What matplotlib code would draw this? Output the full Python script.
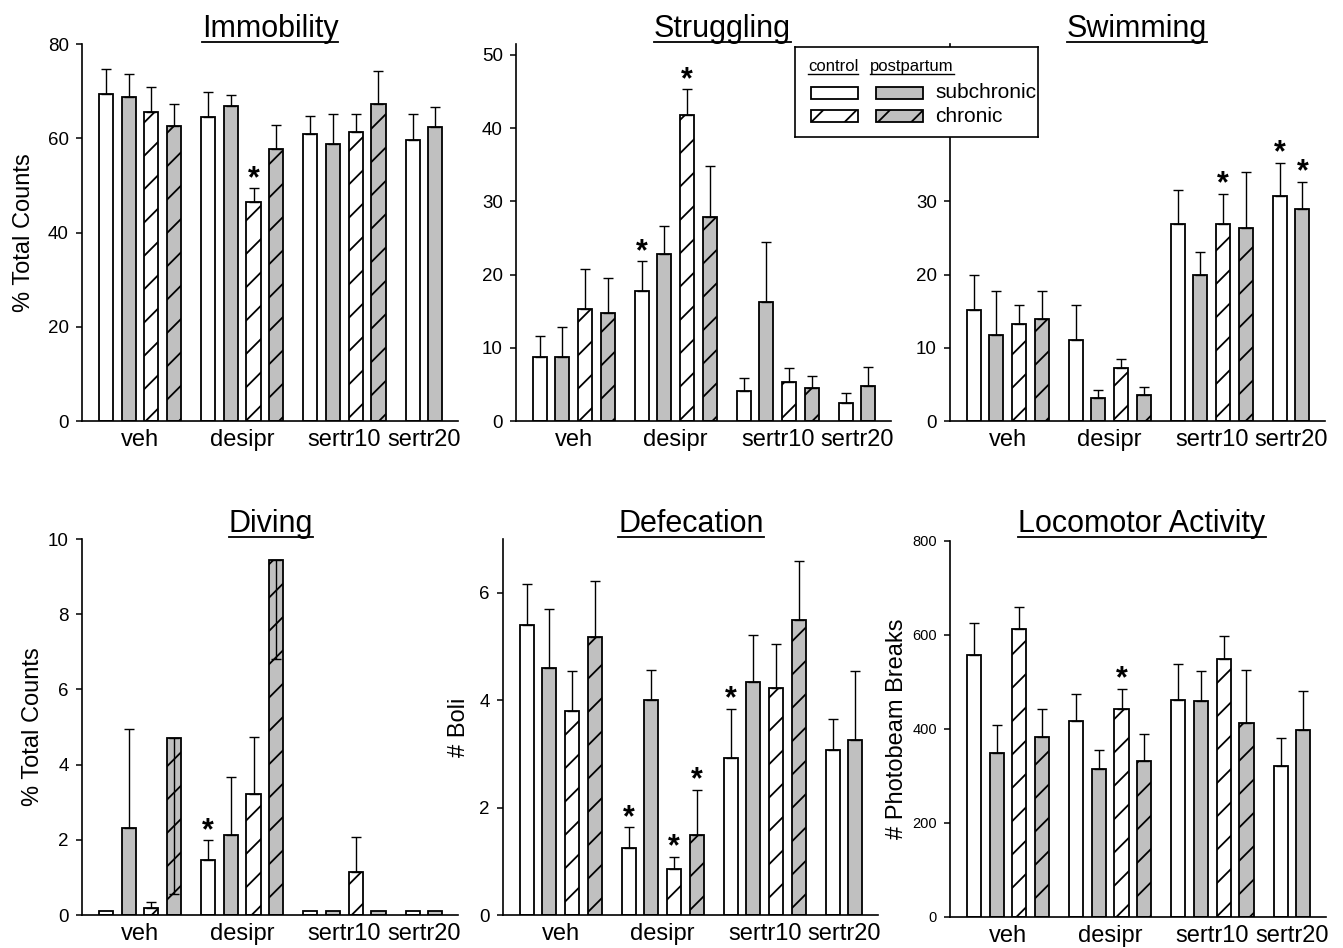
import numpy as np
import matplotlib
matplotlib.use('Agg')
import matplotlib.pyplot as plt
from matplotlib.patches import Rectangle
from matplotlib.lines import Line2D

plt.rcParams['font.family'] = ['Liberation Sans', 'DejaVu Sans']
plt.rcParams['hatch.linewidth'] = 1.3

nan = np.nan

# treatment groups on the x axis, four bars per group
groups = ['veh', 'desipr', 'sertr10', 'sertr20']
conditions = ['control subchronic', 'postpartum subchronic',
              'control chronic', 'postpartum chronic']

# group means (rows = groups, cols = conditions) and SEM
immob_mean = [[69.4, 68.7, 65.5, 62.5], [64.6, 66.8, 46.4, 57.8],
              [60.9, 58.8, 61.4, 67.3], [59.6, 62.3, nan, nan]]
immob_sem = [[5.4, 4.9, 5.4, 4.7], [5.2, 2.3, 3.0, 5.1],
             [3.8, 6.3, 3.7, 6.9], [5.5, 4.3, nan, nan]]
immob_stars = [(1, 2)]

strug_mean = [[8.8, 8.7, 15.3, 14.7], [17.7, 22.8, 41.8, 27.8],
              [4.1, 16.2, 5.3, 4.5], [2.4, 4.8, nan, nan]]
strug_sem = [[2.8, 4.1, 5.4, 4.9], [4.1, 3.8, 3.5, 7.1],
             [1.8, 8.3, 1.9, 1.7], [1.4, 2.6, nan, nan]]
strug_stars = [(1, 0), (1, 2)]

swim_mean = [[15.2, 11.7, 13.2, 13.9], [11.1, 3.1, 7.3, 3.6],
             [26.9, 20.0, 26.9, 26.4], [30.8, 28.9, nan, nan]]
swim_sem = [[4.7, 6.0, 2.7, 3.9], [4.8, 1.2, 1.2, 1.0],
            [4.6, 3.1, 4.1, 7.6], [4.5, 3.8, nan, nan]]
swim_stars = [(2, 2), (3, 0), (3, 1)]

dive_mean = [[0.1, 2.32, 0.18, 4.72], [1.46, 2.14, 3.21, 9.44],
             [0.1, 0.1, 1.15, 0.1], [0.1, 0.1, nan, nan]]
dive_sem = [[0, 2.62, 0.17, 4.17], [0.53, 1.52, 1.52, 2.64],
            [0, 0, 0.93, 0], [0, 0, nan, nan]]
dive_err_down = [(0, 3), (1, 3)]   # these error bars point downward
dive_stars = [(1, 0)]

defec_mean = [[5.40, 4.59, 3.80, 5.17], [1.25, 4.00, 0.86, 1.49],
              [2.93, 4.33, 4.23, 5.50], [3.08, 3.25, nan, nan]]
defec_sem = [[0.76, 1.11, 0.75, 1.04], [0.38, 0.57, 0.22, 0.84],
             [0.91, 0.88, 0.82, 1.09], [0.57, 1.29, nan, nan]]
defec_stars = [(1, 0), (1, 2), (1, 3), (2, 0)]

loco_mean = [[557, 350, 613, 384], [418, 314, 443, 331],
             [461, 460, 548, 412], [321, 397, nan, nan]]
loco_sem = [[69, 59, 47, 59], [57, 42, 42, 58],
            [77, 63, 50, 114], [59, 84, nan, nan]]
loco_stars = [(1, 2)]

W, H = 1343, 948
fig = plt.figure(figsize=(W / 100, H / 100), dpi=100)

face = ['white', '#c0c0c0', 'white', '#c0c0c0']
hatch = [None, None, '/', '/']
GROUP_STEP = 4.5
BAR_W = 0.62

# panel layout in pixels: left, top, right, bottom
panels = [
    dict(title='Immobility', mean=immob_mean, sem=immob_sem, stars=immob_stars,
         ylim=(0, 80), yticks=[0, 20, 40, 60, 80], ylabel='% Total Counts',
         box=(82, 44, 458, 421), tx=270, lab_x=-0.125, tsize=13.5),
    dict(title='Struggling', mean=strug_mean, sem=strug_sem, stars=strug_stars,
         ylim=(0, 51.5), yticks=[0, 10, 20, 30, 40, 50], ylabel=None,
         box=(516, 44, 891, 421), tx=722, tsize=13.5),
    # upper ticks of this panel sit behind the legend box
    dict(title='Swimming', mean=swim_mean, sem=swim_sem, stars=swim_stars,
         ylim=(0, 51.5), yticks=[0, 10, 20, 30, 40, 50], ylabel=None,
         yticklabels=['0', '10', '20', '30', '', ''],
         box=(950, 44, 1325, 421), tx=1137, tsize=13.5),
    dict(title='Diving', mean=dive_mean, sem=dive_sem, stars=dive_stars,
         down=dive_err_down,
         ylim=(0, 10), yticks=[0, 2, 4, 6, 8, 10], ylabel='% Total Counts',
         box=(82, 539, 458, 915), tx=271, lab_x=-0.102, tsize=13.5),
    dict(title='Defecation', mean=defec_mean, sem=defec_sem, stars=defec_stars,
         ylim=(0, 7), yticks=[0, 2, 4, 6], ylabel='# Boli',
         box=(503, 539, 878, 915), tx=691, lab_x=-0.088, tsize=13.5),
    dict(title='Locomotor Activity', mean=loco_mean, sem=loco_sem, stars=loco_stars,
         ylim=(0, 800), yticks=[0, 200, 400, 600, 800], ylabel='# Photobeam Breaks',
         box=(950, 541, 1326, 917), tx=1142, lab_x=-0.112, tsize=10.5),
]

titles = []
for p in panels:
    l, t, r, b = p['box']
    ax = fig.add_axes([l / W, 1 - b / H, (r - l) / W, (b - t) / H])
    mean = np.array(p['mean'], dtype=float)
    sem = np.array(p['sem'], dtype=float)
    down = p.get('down', [])
    base = np.arange(len(groups)) * GROUP_STEP

    for i in range(len(conditions)):
        xs = base + i
        ax.bar(xs, mean[:, i], width=BAR_W, color=face[i], edgecolor='black',
               hatch=hatch[i], linewidth=1.3, zorder=2)
        lo = np.zeros(len(groups))
        up = sem[:, i].copy()
        for g in range(len(groups)):
            if (g, i) in down:
                lo[g], up[g] = sem[g, i], 0
        keep = np.nan_to_num(sem[:, i]) > 0
        if keep.any():
            ax.errorbar(xs[keep], mean[keep, i], yerr=[lo[keep], up[keep]],
                        fmt='none', ecolor='black', elinewidth=1.0,
                        capsize=3.5, capthick=1.0, zorder=3)

    for g, i in p['stars']:
        top = mean[g, i] + (0 if (g, i) in down else sem[g, i])
        ax.annotate('*', xy=(base[g] + i, top), xytext=(0, 1),
                    textcoords='offset points', ha='center', va='baseline',
                    fontsize=22, fontweight='bold', zorder=4)

    centers = [np.mean([base[g] + i for i in range(4) if not np.isnan(mean[g, i])])
               for g in range(len(groups))]
    ax.set_xticks(centers)
    ax.set_xticklabels(groups, fontsize=17)
    ax.tick_params(axis='x', length=0, pad=6)
    ax.set_xlim(-1.05, 15.5)
    ax.set_ylim(*p['ylim'])
    ax.set_yticks(p['yticks'])
    if 'yticklabels' in p:
        ax.set_yticklabels(p['yticklabels'])
    ax.tick_params(axis='y', direction='out', length=4.5, width=1.1,
                   labelsize=p['tsize'], pad=5)
    for s in ['top', 'right']:
        ax.spines[s].set_visible(False)
    for s in ['left', 'bottom']:
        ax.spines[s].set_linewidth(1.2)
    if p['ylabel']:
        ax.set_ylabel(p['ylabel'], fontsize=17)
        ax.yaxis.set_label_coords(p['lab_x'], 0.5)

    base_y = 37 if t < 100 else 532
    txt = fig.text(p['tx'] / W, 1 - base_y / H, p['title'], ha='center',
                   va='baseline', fontsize=22)
    titles.append((txt, base_y + 5))

# legend box spanning the two upper-right panels
lg = fig.add_axes([795 / W, 1 - 137 / H, 243 / W, 90 / H], zorder=10)
lg.set_xlim(0, 243)
lg.set_ylim(90, 0)
lg.set_xticks([])
lg.set_yticks([])
lg.set_facecolor('white')
for s in lg.spines.values():
    s.set_linewidth(1.2)
hdr1 = lg.text(13, 24, 'control', fontsize=12, va='baseline', ha='left')
hdr2 = lg.text(75, 24, 'postpartum', fontsize=12, va='baseline', ha='left')
for row, (y0, lab) in enumerate([(40, 'subchronic'), (63, 'chronic')]):
    for col, x0 in enumerate([16, 81]):
        k = col + 2 * row
        lg.add_patch(Rectangle((x0, y0), 47, 12, facecolor=face[k],
                               edgecolor='black', hatch=hatch[k], linewidth=1.3))
    lg.text(140, y0 + 6, lab, fontsize=15, va='center', ha='left')

# underline titles and legend headers
fig.canvas.draw()
renderer = fig.canvas.get_renderer()
for txt, uy in titles:
    bb = txt.get_window_extent(renderer)
    fig.add_artist(Line2D([bb.x0 / W, bb.x1 / W], [1 - uy / H, 1 - uy / H],
                          transform=fig.transFigure, color='black', lw=1.3))
for hdr in (hdr1, hdr2):
    bb = hdr.get_window_extent(renderer)
    uy = 47 + 27
    fig.add_artist(Line2D([bb.x0 / W, bb.x1 / W], [1 - uy / H, 1 - uy / H],
                          transform=fig.transFigure, color='black', lw=1.0,
                          zorder=11))

fig.savefig('out.png', dpi=100)
